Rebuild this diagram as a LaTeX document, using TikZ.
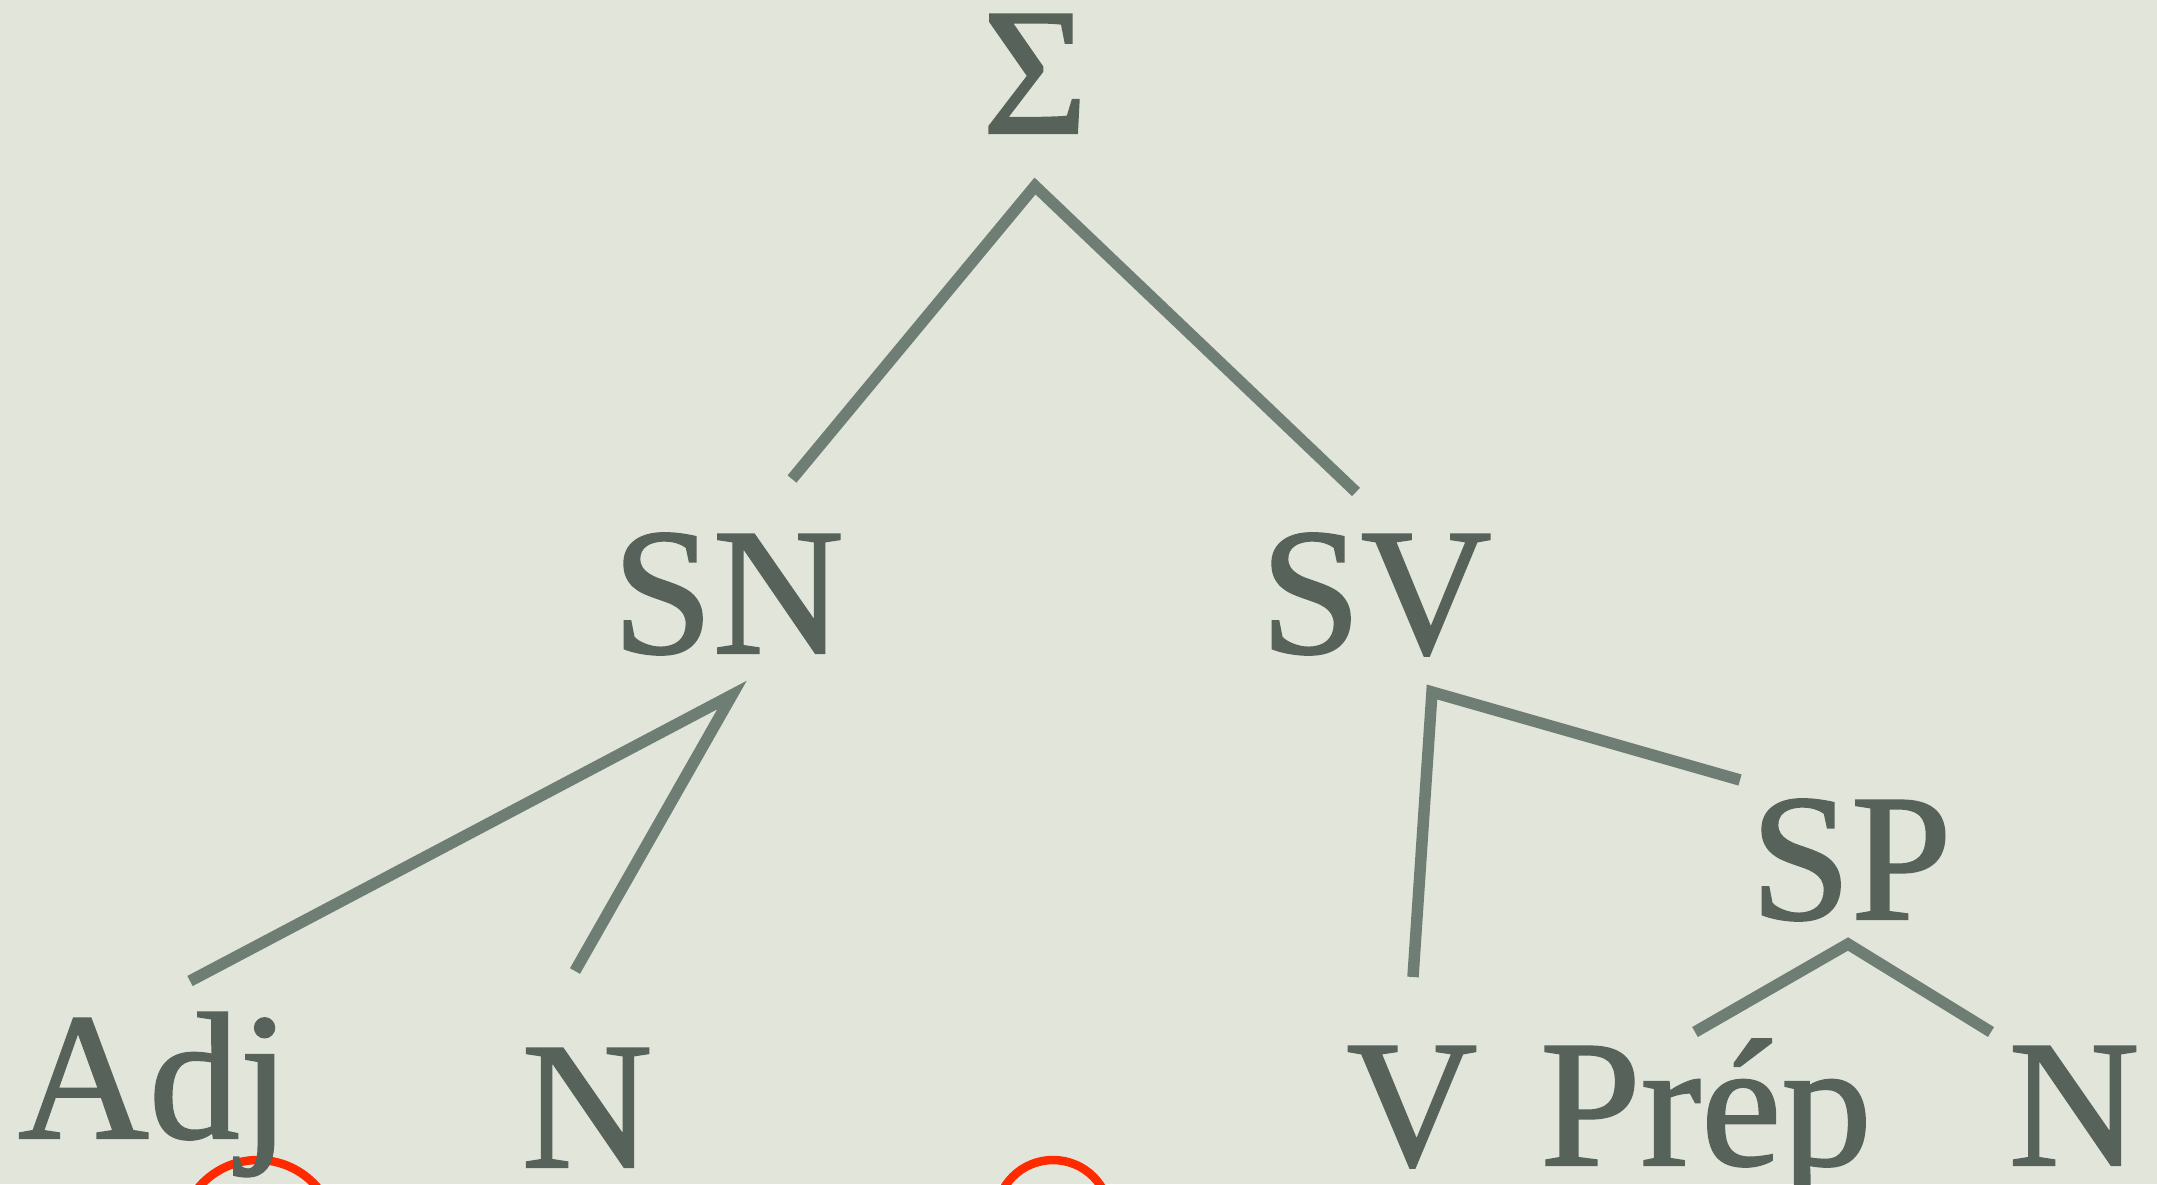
\documentclass[tikz,border=0pt]{standalone}
\usepackage{fontspec}
\setmainfont{Liberation Serif}
\newfontfamily\treefont[FakeBold=1.2]{Liberation Serif}
\definecolor{bgc}{HTML}{E2E5D9}
\definecolor{txtc}{HTML}{56625A}
\definecolor{linec}{HTML}{6F7E74}
\definecolor{redc}{HTML}{FF2A00}
\tikzset{
  lbl/.style={text=txtc, anchor=base, inner sep=0pt, font=\treefont\fontsize{181}{200}\selectfont},
  branch/.style={draw=linec, line width=11.5pt, line join=miter, line cap=butt},
  mark circle/.style={draw=redc, line width=8.5pt}
}
\begin{document}
\begin{tikzpicture}[x=1pt,y=-1pt]
\path[use as bounding box, fill=bgc] (0,0) rectangle (2157,1184);
\clip (0,0) rectangle (2157,1184);
% red marks (cut by the frame)
\draw[mark circle] (258,1238) circle (78);
\draw[mark circle] (1053,1217) circle (57);
% labels
\node[lbl] (S) at (1035,133) {Σ};
\node[lbl] (SN) at (728,653) {SN};
\node[lbl] (SV) at (1376,653) {SV};
\node[lbl] (SP) at (1851,919) {SP};
\node[lbl] (Adj) at (154,1138) {Adj};
\node[lbl] (N1) at (587,1167) {N};
\node[lbl] (V) at (1412,1165) {V};
\node[lbl] (Prep) at (1706,1165) {Prép};
\node[lbl] (N2) at (2074,1165) {N};
% branch points
\coordinate (aS) at (1035,186);
\coordinate (aSNl) at (792,479);
\coordinate (aSVr) at (1356,492);
\coordinate (aSN) at (732,695);
\coordinate (eAdj) at (190,981);
\coordinate (eN1) at (575,971);
\coordinate (aSV) at (1432,692);
\coordinate (eV) at (1413,977);
\coordinate (eSP) at (1740,780);
\coordinate (aSP) at (1848,944);
\coordinate (ePrep) at (1695,1032);
\coordinate (eN2) at (1991,1032);
% branches
\draw[branch] (aSNl) -- (aS) -- (aSVr);
\draw[branch] (eAdj) -- (aSN) -- (eN1);
\draw[branch] (eV) -- (aSV) -- (eSP);
\draw[branch] (ePrep) -- (aSP) -- (eN2);
\end{tikzpicture}
\end{document}
